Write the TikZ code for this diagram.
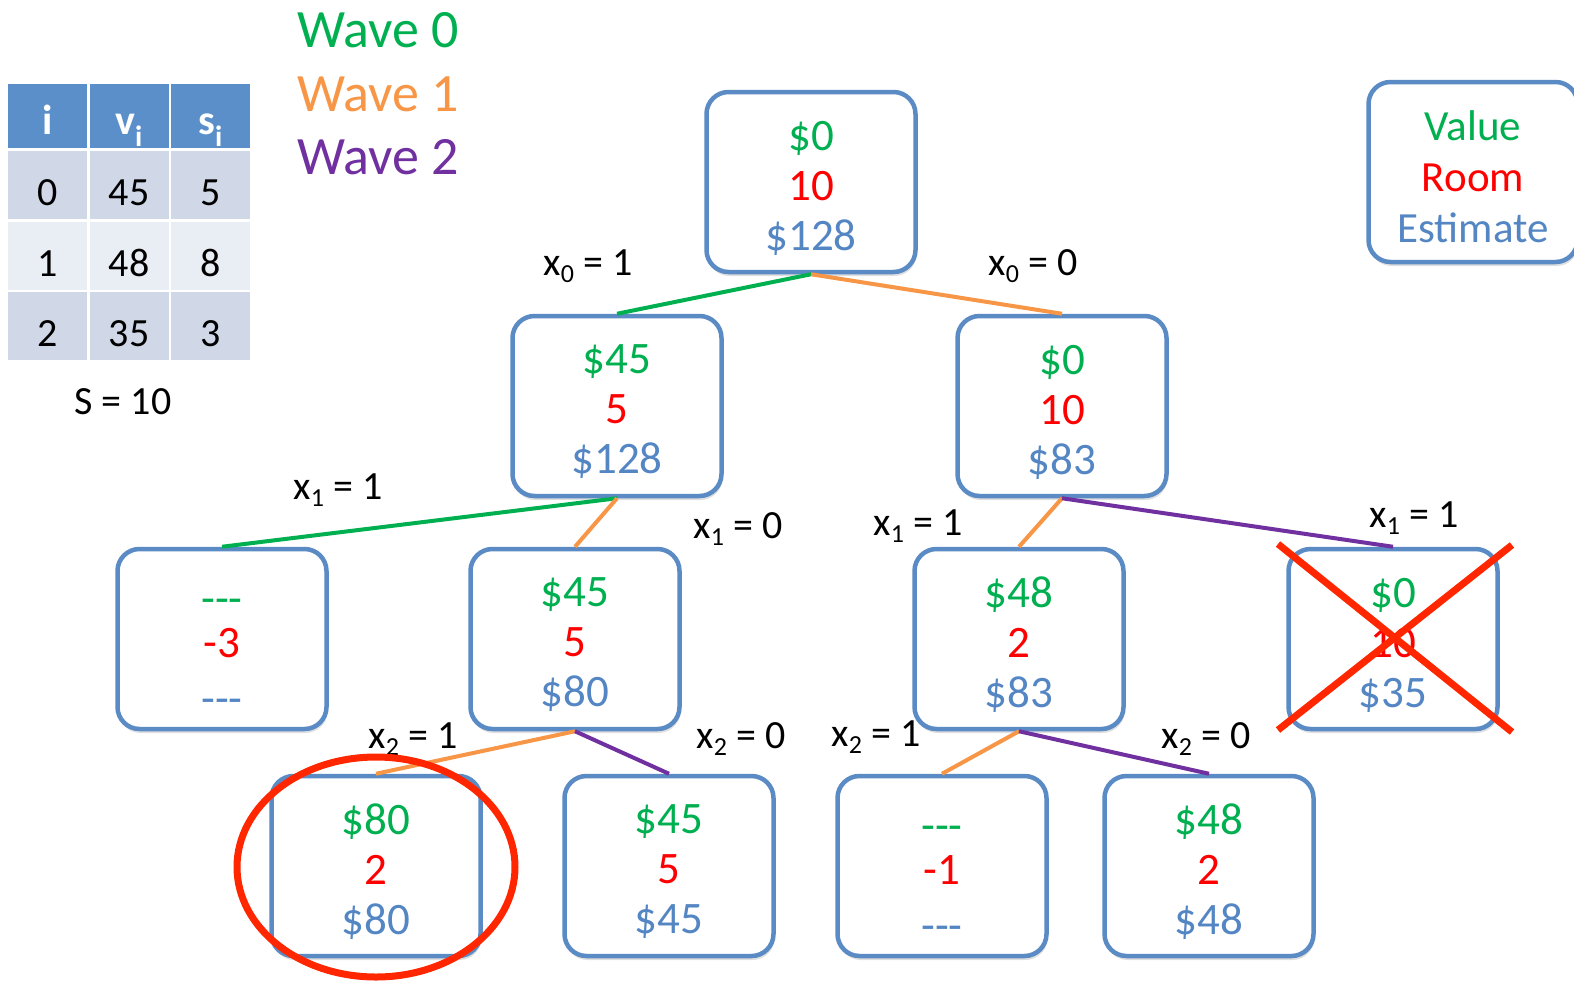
\documentclass[tikz,border=0pt]{standalone}
\usepackage{fontspec}
\setmainfont{Carlito}
\usetikzlibrary{shadows}
\definecolor{boxblue}{RGB}{91,139,196}
\definecolor{estblue}{RGB}{84,134,196}
\definecolor{vgreen}{RGB}{0,176,80}
\definecolor{vred}{RGB}{255,0,0}
\definecolor{worange}{RGB}{247,150,70}
\definecolor{wpurple}{RGB}{112,48,160}
\definecolor{xred}{RGB}{255,38,0}
\definecolor{thead}{RGB}{91,143,201}
\definecolor{rowA}{RGB}{208,216,232}
\definecolor{rowB}{RGB}{233,237,244}
\newcommand{\tri}[3]{\textcolor{vgreen}{#1}\\\textcolor{vred}{#2}\\\textcolor{estblue}{#3}}
\newcommand{\lsub}[1]{\raisebox{-7pt}{\fontsize{26}{26}\selectfont #1}}
\newcommand{\dsh}{\vphantom{\$0}\raisebox{-6pt}[0pt][0pt]{-{}-{}-}}
% box node + its text node
\newcommand{\bnode}[6]{%
  \node[bbox] (#1) at (#2,#3) {};
  \node[btext] (#1t) at (#2,#3+6) {\tri{#4}{#5}{#6}};}
\tikzset{
  bbox/.style={draw=boxblue, line width=4.5pt, rounded corners=22pt, minimum width=209pt, minimum height=180pt, fill=white, inner sep=0pt, drop shadow={opacity=0.25, shadow xshift=1pt, shadow yshift=-4pt}},
  btext/.style={align=center, inner sep=0pt, font=\fontsize{45}{50}\selectfont},
  edg/.style={line width=4pt},
  elab/.style={font=\fontsize{40}{40}\selectfont, inner sep=0pt},
  hcell/.style={fill=thead, minimum width=79pt, minimum height=64pt, inner sep=0pt, text=white, text height=36pt, text depth=0pt, font=\fontsize{42}{44}\selectfont\bfseries},
  cellA/.style={fill=rowA, minimum width=79pt, minimum height=68pt, inner sep=0pt, text height=41pt, text depth=0pt, font=\fontsize{40}{44}\selectfont},
  cellB/.style={cellA, fill=rowB},
  wave/.style={anchor=west, inner sep=0pt, font=\fontsize{54}{58}\selectfont},
  redmark/.style={draw=xred, line width=7pt}
}
\begin{document}
\begin{tikzpicture}[x=1pt,y=-1pt]
\useasboundingbox (0,0) rectangle (1574,983);
% legend of waves
\node[wave, text=vgreen] (w0) at (297,30) {Wave 0};
\node[wave, text=worange] (w1) at (297,94) {Wave 1};
\node[wave, text=wpurple] (w2) at (297,157) {Wave 2};
% table
\node[hcell] (h0) at (47.5,116) {i};
\node[hcell] (h1) at (129,116) {v\textsubscript{i}};
\node[hcell] (h2) at (210.5,116) {s\textsubscript{i}};
\node[cellA] (a0) at (47.5,185) {0};
\node[cellA] (a1) at (129,185) {45};
\node[cellA] (a2) at (210.5,185) {5};
\node[cellB] (b0) at (47.5,256) {1};
\node[cellB] (b1) at (129,256) {48};
\node[cellB] (b2) at (210.5,256) {8};
\node[cellA] (c0) at (47.5,326) {2};
\node[cellA] (c1) at (129,326) {35};
\node[cellA] (c2) at (210.5,326) {3};
\node[font=\fontsize{40}{44}\selectfont] (cap) at (123,402) {S = 10};
% boxes
\bnode{r}{811}{182}{\$0}{10}{\$128}
\bnode{l1a}{617}{406}{\$45}{5}{\$128}
\bnode{l1b}{1062}{406}{\$0}{10}{\$83}
\bnode{l2a}{222}{639}{\dsh}{-3}{\dsh}
\bnode{l2b}{575}{639}{\$45}{5}{\$80}
\bnode{l2c}{1019}{639}{\$48}{2}{\$83}
\bnode{l2d}{1393}{639}{\$0}{10}{\$35}
\bnode{l3a}{376}{866}{\$80}{2}{\$80}
\bnode{l3b}{669}{866}{\$45}{5}{\$45}
\bnode{l3c}{942}{866}{\dsh}{-1}{\dsh}
\bnode{l3d}{1209}{866}{\$48}{2}{\$48}
\node[bbox] (leg) at (1473,172) {};
\node[btext, font=\fontsize{43}{51}\selectfont] (legt) at (1473,177) {\tri{Value}{Room}{Estimate}};
% edges
\draw[edg, vgreen] (r.south) -- (l1a.north);
\draw[edg, worange] (r.south) -- (l1b.north);
\draw[edg, vgreen] (l1a.south) -- (l2a.north);
\draw[edg, worange] (l1a.south) -- (l2b.north);
\draw[edg, worange] (l1b.south) -- (l2c.north);
\draw[edg, wpurple] (l1b.south) -- (l2d.north);
\draw[edg, worange] (l2b.south) -- (l3a.north);
\draw[edg, wpurple] (l2b.south) -- (l3b.north);
\draw[edg, worange] (l2c.south) -- (l3c.north);
\draw[edg, wpurple] (l2c.south) -- (l3d.north);
% edge labels
\node[elab] (e1) at (588,266) {x\lsub{0} = 1};
\node[elab] (e2) at (1033,266) {x\lsub{0} = 0};
\node[elab] (e3) at (338,490) {x\lsub{1} = 1};
\node[elab] (e4) at (738,529) {x\lsub{1} = 0};
\node[elab] (e5) at (918,526) {x\lsub{1} = 1};
\node[elab] (e6) at (1414,518) {x\lsub{1} = 1};
\node[elab] (e7) at (413,739) {x\lsub{2} = 1};
\node[elab] (e8) at (741,739) {x\lsub{2} = 0};
\node[elab] (e9) at (876,737) {x\lsub{2} = 1};
\node[elab] (e10) at (1206,739) {x\lsub{2} = 0};
% red marks
\draw[redmark] (1278,544) -- (1512,732);
\draw[redmark] (1512,545) -- (1278,730);
\draw[redmark] (376,867) ellipse [x radius=139pt, y radius=110pt];
\end{tikzpicture}
\end{document}
